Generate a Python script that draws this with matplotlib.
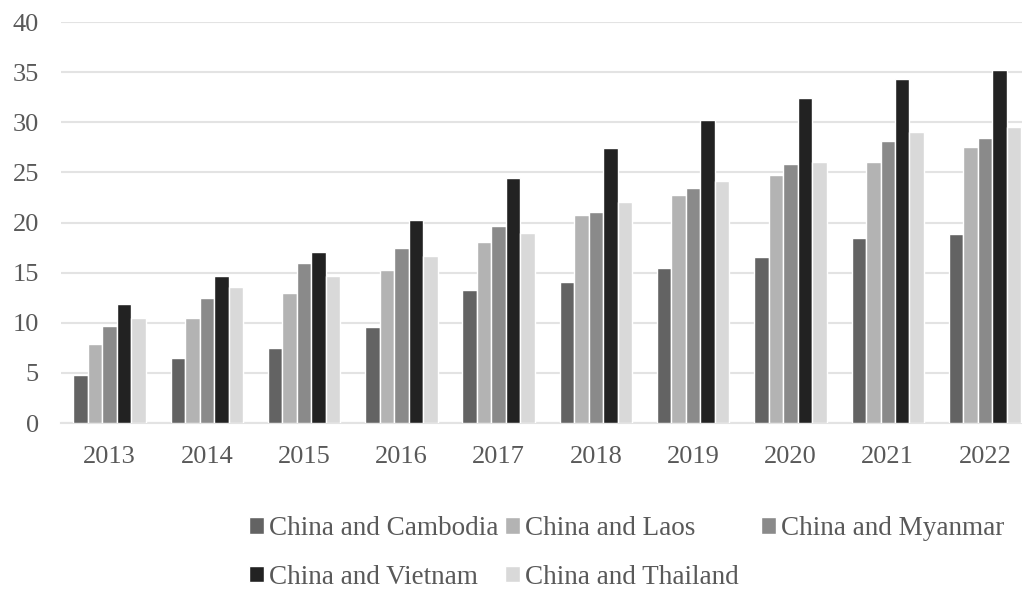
import numpy as np
import matplotlib
matplotlib.use("Agg")
import matplotlib.pyplot as plt

# values
years = ["2013", "2014", "2015", "2016", "2017", "2018", "2019", "2020", "2021", "2022"]
cambodia = [4.8, 6.5, 7.5, 9.6, 13.3, 14.1, 15.5, 16.6, 18.5, 18.9]
laos = [7.9, 10.5, 13.0, 15.3, 18.1, 20.8, 22.7, 24.7, 26.0, 27.5]
myanmar = [9.7, 12.5, 16.0, 17.5, 19.7, 21.0, 23.4, 25.8, 28.1, 28.4]
vietnam = [11.9, 14.7, 17.1, 20.3, 24.4, 27.4, 30.2, 32.4, 34.3, 35.2]
thailand = [10.5, 13.6, 14.7, 16.7, 19.0, 22.0, 24.1, 26.0, 29.0, 29.5]

series = [
	("China and Cambodia", cambodia, "#636363"),
	("China and Laos", laos, "#b3b3b3"),
	("China and Myanmar", myanmar, "#8a8a8a"),
	("China and Vietnam", vietnam, "#222222"),
	("China and Thailand", thailand, "#d9d9d9"),
]

plt.rcParams["font.family"] = ["Liberation Serif", "DejaVu Serif"]
text_col = "#595959"

fig = plt.figure(figsize=(10.22, 5.89), dpi=100)
ax = fig.add_axes([0.0597, 0.2818, 0.9517, 0.6808])

x = np.arange(len(years))
w = 0.149
handles = {}
for i, (name, vals, col) in enumerate(series):
	bars = ax.bar(x + (i - 2) * w, vals, width=w, color=col,
				  edgecolor="white", linewidth=1.0, zorder=3, label=name)
	handles[name] = bars

ax.set_xlim(-0.5, len(years) - 0.5)
ax.set_ylim(0, 40)
ax.set_yticks(np.arange(0, 41, 5))
ax.set_xticks(x)
ax.set_xticklabels(years)
ax.grid(axis="y", color="#e3e3e3", linewidth=1.5, zorder=0)
ax.set_axisbelow(True)
for s in ["top", "right", "left"]:
	ax.spines[s].set_visible(False)
ax.spines["bottom"].set_color("#e3e3e3")
ax.spines["bottom"].set_linewidth(1.5)
ax.tick_params(axis="both", length=0, labelsize=19, colors=text_col)
ax.tick_params(axis="y", pad=16)
ax.tick_params(axis="x", pad=16.5)

# legend: three columns of equal width, filled row by row (Excel style)
columns = [
	["China and Cambodia", "China and Vietnam"],
	["China and Laos", "China and Thailand"],
	["China and Myanmar"],
]
col_x = [249, 505, 761]
for names, cx in zip(columns, col_x):
	leg = fig.legend([handles[n] for n in names], names, ncol=1,
					 loc="upper left", bbox_to_anchor=(cx / 1022, 1 - 516 / 589),
					 frameon=False, fontsize=19.5, handlelength=0.55, handleheight=0.55,
					 handletextpad=0.2, labelspacing=0.88,
					 borderpad=0, borderaxespad=0)
	for t in leg.get_texts():
		t.set_color(text_col)

fig.savefig("out.png", dpi=100)
